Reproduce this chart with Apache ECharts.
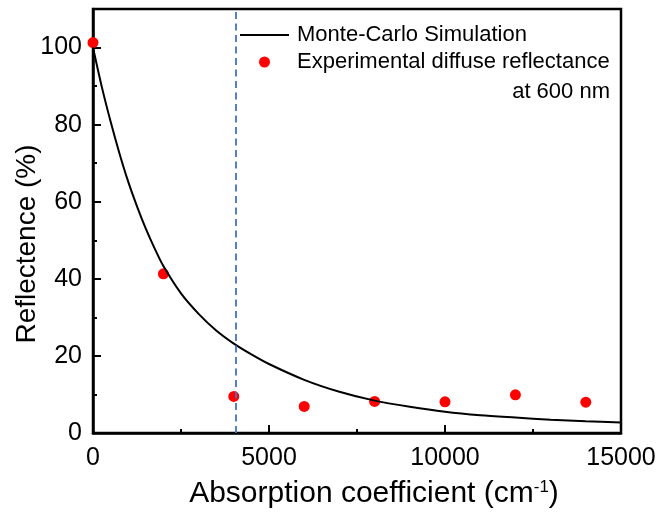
<!DOCTYPE html>
<html>
<head>
<meta charset="utf-8">
<script src="https://cdn.jsdelivr.net/npm/echarts@6/dist/echarts.min.js"></script>
<style>html,body{margin:0;padding:0;background:#fff;}#c{width:660px;height:514px;}</style>
</head>
<body>
<div id="c"></div>
<script>
// Monte-Carlo simulation curve
const curveX = [0, 250, 500, 750, 1000, 1250, 1500, 1750, 2000, 2500, 3000, 3500, 4000, 4500, 5000, 6000, 7000, 8000, 9000, 10000, 11000, 12000, 13000, 14000, 15000];
const curveY = [100, 89.8, 80.8, 72.6, 65.2, 58.8, 53.0, 47.9, 43.3, 36.2, 30.9, 26.6, 23.2, 20.4, 17.9, 13.8, 10.7, 8.4, 6.8, 5.5, 4.6, 4.0, 3.45, 3.05, 2.75];
// Experimental diffuse reflectance at 600 nm
const expX = [0, 2000, 4000, 6000, 8000, 10000, 12000, 14000];
const expY = [101.3, 41.3, 9.5, 6.9, 8.2, 8.1, 9.9, 8.0];
// vertical dashed marker
const markerX = [4050];
const seriesNames = ['Monte-Carlo Simulation', 'Experimental diffuse reflectance'];
const noteText = 'at 600 nm';
const xTitle = 'Absorption coefficient (cm{sup|-1})';
const yTitle = 'Reflectence (%)';

const FF = '"Liberation Sans", Arial, Helvetica, sans-serif';
const chart = echarts.init(document.getElementById('c'), null, {renderer: 'canvas'});
const axisCommon = {
  type: 'value',
  axisLine: {show: true, lineStyle: {color: '#000', width: 2.5}},
  axisTick: {show: true, inside: true, length: 8, lineStyle: {color: '#000', width: 2}},
  minorTick: {show: true, splitNumber: 2, length: 4, lineStyle: {color: '#000', width: 2}},
  splitLine: {show: false}
};
chart.setOption({
  animation: false,
  backgroundColor: '#fff',
  grid: {left: 93, right: 39, top: 9, bottom: 81, show: true, borderColor: '#000', borderWidth: 2.5,
    containLabel: false, outerBoundsMode: 'none'},
  legend: {
    data: [{name: seriesNames[0], itemStyle: {opacity: 0}}, {name: seriesNames[1]}],
    orient: 'vertical', left: 234, top: 19,
    itemWidth: 49, itemHeight: 11, itemGap: 5,
    textStyle: {fontSize: 22, color: '#000', fontFamily: FF, padding: [0, 0, 0, 3]}
  },
  graphic: [{
    type: 'text', right: 50, top: 81,
    style: {text: noteText, fontSize: 22, fill: '#000', fontFamily: FF}
  }, {
    type: 'text', x: 374, y: 494,
    style: {text: xTitle, fontSize: 30, fill: '#000', fontFamily: FF,
      align: 'center', verticalAlign: 'middle',
      rich: {sup: {fontSize: 17, fill: '#000', fontFamily: FF, verticalAlign: 'top', lineHeight: 17}}}
  }, {
    type: 'text', x: 27, y: 244, rotation: Math.PI / 2,
    style: {text: yTitle, fontSize: 28, fill: '#000', fontFamily: FF,
      align: 'center', verticalAlign: 'middle'}
  }],
  xAxis: Object.assign({}, axisCommon, {
    min: 0, max: 15000, interval: 5000,
    axisLabel: {fontSize: 25, color: '#000', margin: 13, fontFamily: FF, formatter: v => String(v)}
  }),
  yAxis: Object.assign({}, axisCommon, {
    min: 0, max: 110, interval: 20,
    axisLabel: {fontSize: 25, color: '#000', margin: 11, fontFamily: FF, showMaxLabel: false,
      formatter: v => (v > 100 ? '' : String(v))}
  }),
  series: [{
    name: seriesNames[0], type: 'line', smooth: 0.3, symbol: 'none',
    lineStyle: {color: '#000', width: 2}, itemStyle: {color: '#000'},
    data: curveX.map((x, i) => [x, curveY[i]]),
    markLine: {
      silent: true, symbol: ['none', 'none'],
      lineStyle: {color: '#4472C4', type: [7, 4.5], width: 1.8},
      label: {show: false},
      data: markerX.map(x => ({xAxis: x}))
    }
  }, {
    name: seriesNames[1], type: 'scatter', symbol: 'circle', symbolSize: 11,
    itemStyle: {color: '#ff0000', opacity: 1},
    data: expX.map((x, i) => [x, expY[i]])
  }]
});
</script>
</body>
</html>
